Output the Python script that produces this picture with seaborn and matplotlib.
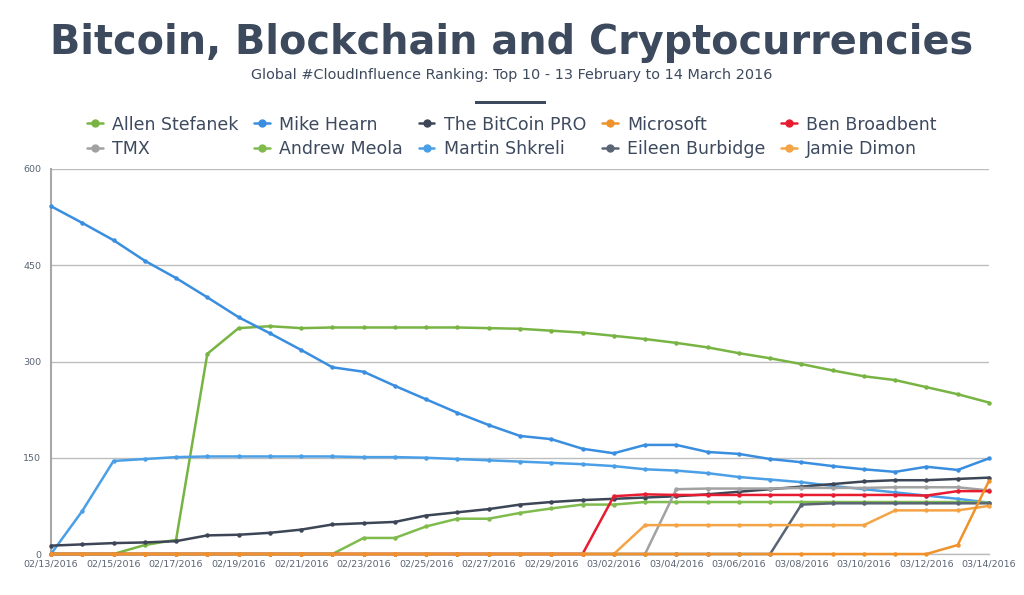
import matplotlib
matplotlib.use("Agg")
import matplotlib.pyplot as plt
import seaborn as sns
import pandas as pd
from matplotlib.lines import Line2D
from matplotlib.patches import Rectangle

dates = ["02/13/2016", "02/14/2016", "02/15/2016", "02/16/2016", "02/17/2016", "02/18/2016",
         "02/19/2016", "02/20/2016", "02/21/2016", "02/22/2016", "02/23/2016", "02/24/2016",
         "02/25/2016", "02/26/2016", "02/27/2016", "02/28/2016", "02/29/2016", "03/01/2016",
         "03/02/2016", "03/03/2016", "03/04/2016", "03/05/2016", "03/06/2016", "03/07/2016",
         "03/08/2016", "03/09/2016", "03/10/2016", "03/11/2016", "03/12/2016", "03/13/2016",
         "03/14/2016"]

allen_stefanek = [0, 0, 0, 14, 22, 312, 352, 355, 352, 353, 353, 353, 353, 353, 352, 351, 348,
                  345, 340, 335, 329, 322, 313, 305, 296, 286, 277, 271, 260, 249, 236]
mike_hearn = [542, 516, 489, 457, 430, 400, 369, 344, 318, 291, 284, 262, 241, 220, 201, 184,
              179, 164, 157, 170, 170, 159, 156, 148, 143, 137, 132, 128, 136, 131, 149]
bitcoin_pro = [13, 15, 17, 18, 20, 29, 30, 33, 38, 46, 48, 50, 60, 65, 70, 77, 81, 84, 86, 88,
               90, 93, 97, 101, 105, 109, 113, 115, 115, 117, 119]
microsoft = [0] * 29 + [14, 114]
ben_broadbent = [0] * 18 + [90, 93, 92, 92, 92, 92, 92, 92, 92, 92, 91, 98, 98]
tmx = [0] * 20 + [101, 102, 102, 102, 103, 103, 103, 104, 104, 104, 99]
andrew_meola = [0] * 10 + [25, 25, 43, 55, 55, 64, 71, 77, 77, 81, 81, 81, 81, 81, 81, 81, 81,
                           81, 81, 81, 80]
martin_shkreli = [0, 67, 145, 148, 151, 152, 152, 152, 152, 152, 151, 151, 150, 148, 146, 144,
                  142, 140, 137, 132, 130, 126, 120, 116, 112, 106, 101, 96, 91, 86, 80]
eileen_burbidge = [0] * 24 + [77, 79, 79, 79, 79, 79, 79]
jamie_dimon = [0] * 19 + [45, 45, 45, 45, 45, 45, 45, 45, 68, 68, 68, 75]

names = ["Allen Stefanek", "Mike Hearn", "The BitCoin PRO", "Microsoft", "Ben Broadbent",
         "TMX", "Andrew Meola", "Martin Shkreli", "Eileen Burbidge", "Jamie Dimon"]
values = [allen_stefanek, mike_hearn, bitcoin_pro, microsoft, ben_broadbent,
          tmx, andrew_meola, martin_shkreli, eileen_burbidge, jamie_dimon]
colors = ["#78b443", "#3a8ee0", "#3c4656", "#f0922c", "#e81c30",
          "#a2a2a2", "#80bb4e", "#4a9fe6", "#5a6574", "#f4a445"]

rows = []
for n, v in zip(names, values):
    for i, val in enumerate(v):
        rows.append({"name": n, "idx": i, "value": val})
df = pd.DataFrame(rows)

sns.set_style("white")
plt.rcParams["font.family"] = ["DejaVu Sans"]

TXT = "#3d4a5e"
fig = plt.figure(figsize=(10.24, 5.95), dpi=100)
ax = fig.add_axes([51 / 1024, 1 - 554 / 595, (989 - 51) / 1024, (554 - 169) / 595])

draw_order = ["Allen Stefanek", "Mike Hearn", "Martin Shkreli", "The BitCoin PRO", "Andrew Meola",
              "Eileen Burbidge", "TMX", "Ben Broadbent", "Jamie Dimon", "Microsoft"]
cmap = dict(zip(names, colors))
for z, n in enumerate(draw_order):
    sub = df[df["name"] == n]
    sns.lineplot(data=sub, x="idx", y="value", ax=ax, color=cmap[n], linewidth=1.8,
                 marker="o", markersize=3.2, markeredgewidth=0, zorder=3 + z,
                 clip_on=False, legend=False)

ax.set_xlim(0, 30)
ax.set_ylim(0, 600)
ax.set_yticks([0, 150, 300, 450, 600])
ax.set_xticks(range(0, 31, 2))
ax.set_xticklabels(dates[::2])
ax.tick_params(axis="both", labelsize=6.8, labelcolor="#5a6473", length=0, pad=4)
ax.tick_params(axis="y", pad=7)
ax.grid(axis="y", color="#bdbdbd", linewidth=1.0)
ax.set_xlabel("")
ax.set_ylabel("")
for s in ["top", "right"]:
    ax.spines[s].set_visible(False)
ax.spines["left"].set_color("#a8a8a8")
ax.spines["left"].set_linewidth(1.5)
ax.spines["bottom"].set_color("#bdbdbd")
ax.spines["bottom"].set_linewidth(1.0)

# Title, subtitle, bar
fig.text(0.5, 1 - 43 / 595, "Bitcoin, Blockchain and Cryptocurrencies", ha="center",
         va="center", fontsize=28.6, fontweight="bold", color=TXT)
fig.text(0.5, 1 - 75 / 595, "Global #CloudInfluence Ranking: Top 10 - 13 February to 14 March 2016",
         ha="center", va="center", fontsize=10.4, color=TXT)
fig.add_artist(Rectangle((475 / 1024, 1 - 104 / 595), 71 / 1024, 3.5 / 595,
                         transform=fig.transFigure, color=TXT, lw=0))

# Legend (column-major order for 5 columns)
leg_order = [0, 5, 1, 6, 2, 7, 3, 8, 4, 9]
handles = [Line2D([0], [0], color=colors[i], lw=1.8, marker="o", markersize=5) for i in leg_order]
labels = [names[i] for i in leg_order]
fig.legend(handles, labels, loc="center", bbox_to_anchor=(0.5, 1 - 137 / 595), ncol=5,
           frameon=False, fontsize=12.5, handlelength=0.9, handletextpad=0.55,
           columnspacing=0.9, labelspacing=0.4, labelcolor=TXT)

fig.savefig("out.png", dpi=100)
